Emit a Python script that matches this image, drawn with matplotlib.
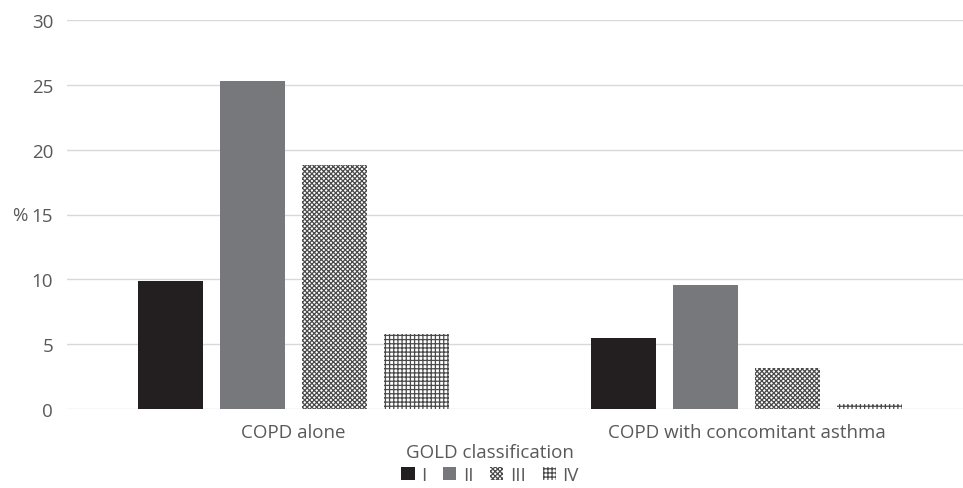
import matplotlib.pyplot as plt
import numpy as np

# data
groups = ["COPD alone", "COPD with concomitant asthma"]
stages = ["I", "II", "III", "IV"]
gold_I = [9.9, 5.5]
gold_II = [25.3, 9.6]
gold_III = [18.8, 3.2]
gold_IV = [5.8, 0.4]
yticks = [0, 5, 10, 15, 20, 25, 30]

plt.rcParams['font.family'] = ['Open Sans', 'DejaVu Sans']
plt.rcParams['hatch.linewidth'] = 0.9
txt = '#595959'
fs = 13.5

fig = plt.figure(figsize=(9.63, 4.89), dpi=100)
ax = fig.add_axes([67 / 963, 79 / 489, 896 / 963, 389 / 489])

x = np.arange(len(groups))
width = 0.1435
offsets = [-0.2715, -0.0905, 0.0905, 0.2715]
series = [gold_I, gold_II, gold_III, gold_IV]
styles = [
    dict(color='#231f20'),
    dict(color='#77787b'),
    dict(facecolor='white', edgecolor='#4a4a4a', hatch='xxxxxxx', linewidth=0),
    dict(facecolor='white', edgecolor='#4a4a4a', hatch='++++', linewidth=0),
]
handles = []
for vals, off, st, lab in zip(series, offsets, styles, stages):
    b = ax.bar(x + off, vals, width, label=lab, **st)
    handles.append(b)

ax.set_xlim(-0.5, 1.478)
ax.set_ylim(0, 30)
ax.set_yticks(yticks)
ax.yaxis.grid(True, color='#d9d9d9', linewidth=1)
ax.set_axisbelow(True)
for s in ax.spines.values():
    s.set_visible(False)
ax.tick_params(length=0, colors=txt, labelsize=fs)
ax.tick_params(axis='y', pad=10)
ax.tick_params(axis='x', pad=10)
ax.set_xticks(x)
ax.set_xticklabels(groups)

fig.text(12 / 963, 1 - 216 / 489, "%", color=txt, fontsize=fs, va='center', ha='left')
fig.text(490 / 963, 1 - 453 / 489, "GOLD classification", color=txt, fontsize=fs,
         ha='center', va='center')

fig.legend(handles=handles, labels=stages, loc='center', bbox_to_anchor=(490 / 963, 1 - 476 / 489),
           ncol=4, frameon=False, fontsize=fs, labelcolor=txt, handlelength=0.7,
           handleheight=0.7, handletextpad=0.35, columnspacing=0.9, borderpad=0)

fig.savefig("out.png", dpi=100)
